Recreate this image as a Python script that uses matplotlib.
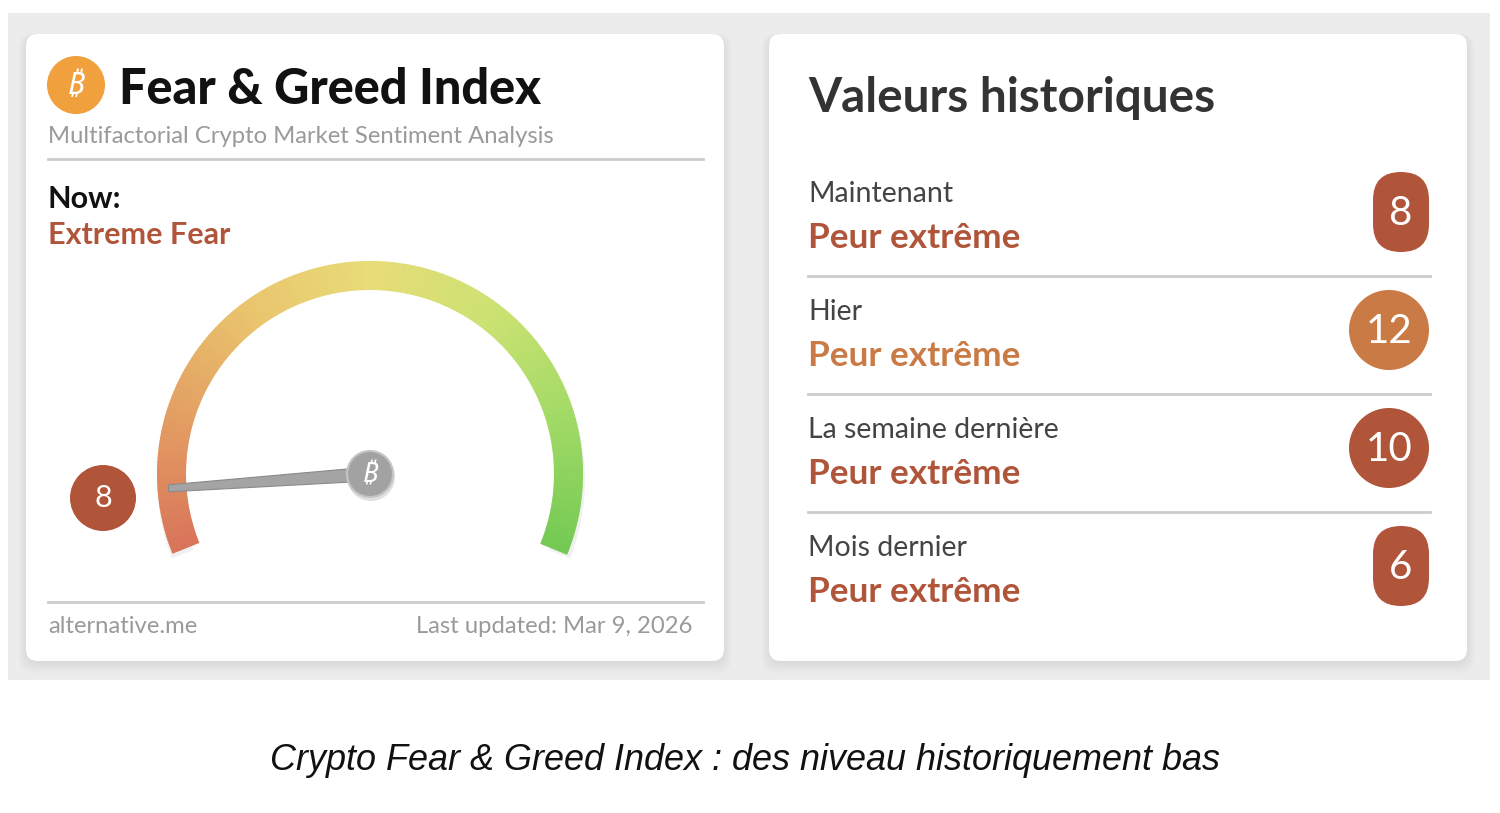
import numpy as np
import matplotlib.pyplot as plt
from matplotlib.patches import FancyBboxPatch, Circle, Wedge, Polygon
from matplotlib.colors import LinearSegmentedColormap

# Data
now_value = 8
now_label = 'Extreme Fear'
hist_labels = ['Maintenant', 'Hier', 'La semaine dernière', 'Mois dernier']
hist_values = [8, 12, 10, 6]
hist_status = ['Peur extrême', 'Peur extrême', 'Peur extrême', 'Peur extrême']
hist_colors = ['#b0553a', '#c97a45', '#b0553a', '#b0553a']
gauge_stops = ['#d9745a', '#e39e62', '#e9c46e', '#e8dc78', '#cce272', '#a2da66', '#74ca54']

brick = '#b0553a'
font = ['Lato', 'DejaVu Sans']

fig = plt.figure(figsize=(15, 8.13), dpi=100)
ax = fig.add_axes([0, 0, 1, 1])
ax.set_xlim(0, 1500)
ax.set_ylim(813, 0)
ax.set_aspect('equal')
ax.axis('off')

# gray backdrop and cards
ax.add_patch(FancyBboxPatch((8, 13), 1482, 667, boxstyle='square,pad=0',
                            fc='#ececec', ec='none', zorder=0))
for x0 in [26, 769]:
    for k in range(6):
        ax.add_patch(FancyBboxPatch((x0 - k * 1.5, 34 - k * 0.5 + 2), 698 + k * 3, 627 + k * 2.5,
                                    boxstyle='round,pad=0,rounding_size=14',
                                    fc='#000000', ec='none', alpha=0.012, zorder=1))
    ax.add_patch(FancyBboxPatch((x0, 34), 698, 627, boxstyle='round,pad=0,rounding_size=12',
                                fc='white', ec='none', zorder=2))

# left card header
ax.add_patch(Circle((76, 85), 29, fc='#f0a03c', ec='none', zorder=3))
ax.text(76, 86, '₿', color='white', fontsize=22, fontweight='bold', style='italic',
        ha='center', va='center', family=['Noto Sans', 'DejaVu Sans'], zorder=4)
ax.text(119, 104, 'Fear & Greed Index', fontsize=35, fontweight=900, color='#111111',
        family=font, va='baseline', zorder=3)
ax.text(48, 143, 'Multifactorial Crypto Market Sentiment Analysis', fontsize=17.2,
        color='#9a9a9a', family=font, va='baseline', zorder=3)
ax.plot([48, 703], [159, 159], color='#cccccc', lw=2, zorder=3)
ax.text(48, 208, 'Now:', fontsize=22, fontweight='bold', color='#111111',
        family=font, va='baseline', zorder=3)
ax.text(48, 244, now_label, fontsize=22, fontweight='bold', color=brick,
        family=font, va='baseline', zorder=3)

# gauge
cx, cy = 370, 474
r_out, width = 213, 29
a0, a1 = 202, -22
cmap = LinearSegmentedColormap.from_list('fg', gauge_stops)
n = 240
edges = np.linspace(a0, a1, n + 1)
ax.add_patch(Wedge((cx + 1, cy + 6), r_out + 1, -a0 + 0.5, -a1 - 0.5, width=width - 6,
                   fc='#000000', ec='none', alpha=0.06, zorder=3))
for i in range(n):
    ax.add_patch(Wedge((cx, cy), r_out, -edges[i], -edges[i + 1] + 0.3, width=width,
                       fc=cmap(i / (n - 1)), ec='none', zorder=4))

ang = np.radians(a0 + (a1 - a0) * now_value / 100)
tip_r = 202
ux, uy = np.cos(ang), -np.sin(ang)
px, py = -uy, ux
tip = (cx + tip_r * ux, cy + tip_r * uy)
needle = Polygon([(cx + 7 * px, cy + 7 * py), (tip[0] + 3.5 * px, tip[1] + 3.5 * py),
                  (tip[0] - 3.5 * px, tip[1] - 3.5 * py), (cx - 7 * px, cy - 7 * py)],
                 closed=True, fc='#a4a4a4', ec='#8a8a8a', lw=0.8, zorder=5)
ax.add_patch(needle)
ax.add_patch(Circle((cx + 1, cy + 3), 24, fc='#000000', ec='none', alpha=0.12, zorder=5))
ax.add_patch(Circle((cx, cy), 23, fc='#a2a2a2', ec='#c4c4c4', lw=1.5, zorder=6))
ax.text(cx, cy + 1, '₿', color='white', fontsize=20, fontweight='bold', style='italic',
        ha='center', va='center', family=['Noto Sans', 'DejaVu Sans'], zorder=7)

ax.add_patch(Circle((103, 498), 33, fc=brick, ec='none', zorder=4))
ax.text(103, 498, str(now_value), fontsize=22, color='white', family=font,
        ha='center', va='center', zorder=5)

# left card footer
ax.plot([48, 703], [602, 602], color='#cccccc', lw=2, zorder=3)
ax.text(48, 633, 'alternative.me', fontsize=17.2, color='#9a9a9a', family=font,
        va='baseline', zorder=3)
ax.text(693, 633, 'Last updated: Mar 9, 2026', fontsize=17.2, color='#9a9a9a', family=font,
        ha='right', va='baseline', zorder=3)

# right card
ax.text(808, 112, 'Valeurs historiques', fontsize=34.4, fontweight='bold', color='#333333',
        family=font, va='baseline', zorder=3)
row_step = 118
for i, (lab, val, st, col) in enumerate(zip(hist_labels, hist_values, hist_status, hist_colors)):
    y0 = 202 + i * row_step
    ax.text(808, y0, lab, fontsize=20.5, color='#444444', family=font, va='baseline', zorder=3)
    ax.text(808, y0 + 46, st, fontsize=25.3, fontweight='bold', color=col, family=font,
            va='baseline', zorder=3)
    yc = 212 + i * row_step
    if val >= 10:
        ax.add_patch(Circle((1389, yc), 40, fc=col, ec='none', zorder=3))
        xc = 1389
    else:
        ax.add_patch(FancyBboxPatch((1373, yc - 40), 56, 80,
                                    boxstyle='round,pad=0,rounding_size=28',
                                    fc=col, ec='none', zorder=3))
        xc = 1401
    ax.text(xc, yc + 1, str(val), fontsize=29, color='white', family=font,
            ha='center', va='center', zorder=4)
    if i < len(hist_labels) - 1:
        ax.plot([808, 1430], [276 + i * row_step] * 2, color='#cccccc', lw=2, zorder=3)

# caption
ax.text(745, 770, 'Crypto Fear & Greed Index : des niveau historiquement bas', fontsize=25.9,
        style='italic', color='#111111', family=['Liberation Sans', 'DejaVu Sans'],
        ha='center', va='baseline')

fig.savefig('out.png', dpi=100, facecolor='white')
